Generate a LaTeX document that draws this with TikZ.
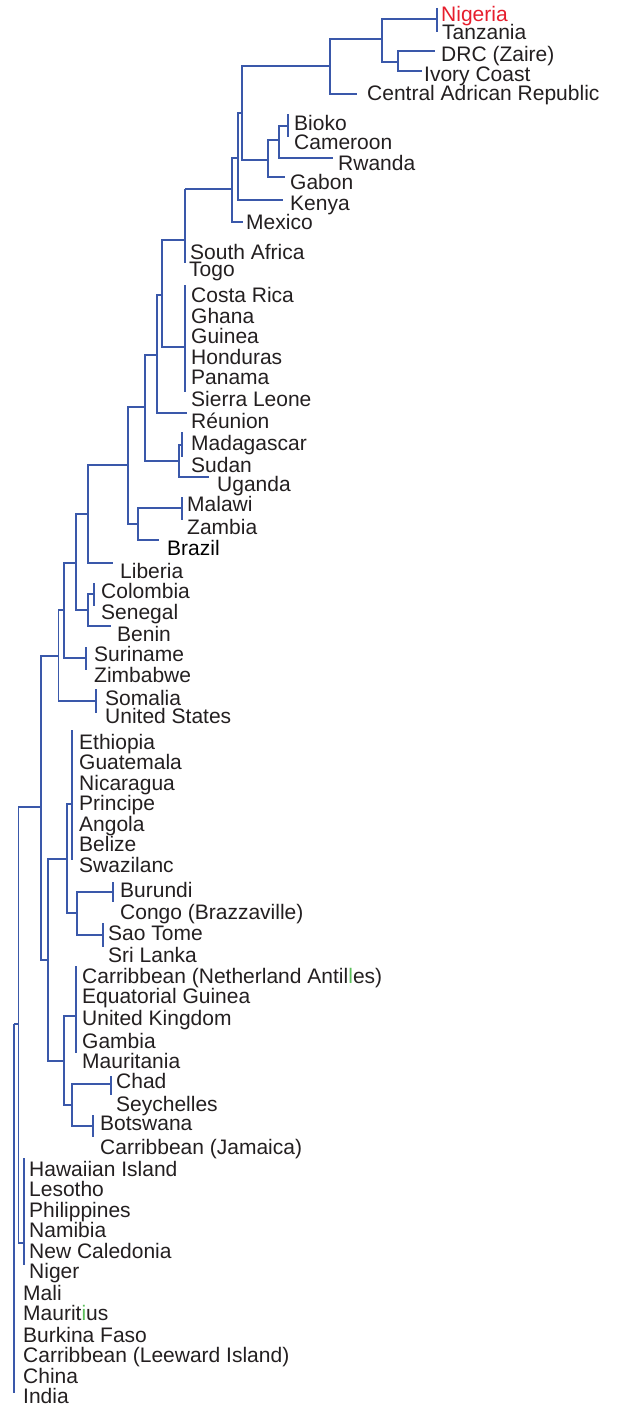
\documentclass[tikz,border=0pt]{standalone}
\usepackage{fontspec}
\setmainfont{Liberation Sans}
\definecolor{treeblue}{RGB}{58,88,170}
\definecolor{labgray}{RGB}{35,31,32}
\definecolor{nigred}{RGB}{230,30,45}
\definecolor{oddgreen}{RGB}{90,190,90}
\begin{document}
\begin{tikzpicture}[x=1pt,y=-1pt,
  edge/.style={draw=treeblue,line width=1.1pt},
  lab/.style={anchor=base west,inner sep=0pt,text=labgray,font=\fontsize{21}{21}\selectfont}]
\useasboundingbox (0,0) rectangle (620,1405);
% internal nodes
\coordinate (n1) at (14,1024);
\coordinate (rootend) at (14,1393);
\coordinate (n2) at (18.5,1024);
\coordinate (hw) at (24,1243);
\coordinate (hwtop) at (24,1158);
\coordinate (hwbot) at (24,1265);
\coordinate (n3) at (41,807);
\coordinate (n4) at (58.5,656);
\coordinate (n5) at (48,960);
\coordinate (n6) at (64,610);
\coordinate (som) at (96,701);
\coordinate (somtop) at (96,689);
\coordinate (sombot) at (96,713);
\coordinate (n7) at (76,563);
\coordinate (sur) at (86,658);
\coordinate (surtop) at (86,647);
\coordinate (surbot) at (86,670);
\coordinate (n8) at (88,514);
\coordinate (n9) at (88,610);
\coordinate (n10) at (128,465);
\coordinate (lib) at (113,563);
\coordinate (col) at (94,594);
\coordinate (coltop) at (94,583);
\coordinate (colbot) at (94,606);
\coordinate (ben) at (111,626);
\coordinate (n11) at (145,407);
\coordinate (n12) at (138,524);
\coordinate (mal) at (182,508);
\coordinate (maltop) at (182,497);
\coordinate (malbot) at (182,520);
\coordinate (bra) at (159,540);
\coordinate (n13) at (157,355);
\coordinate (n14) at (179,461);
\coordinate (mad) at (182,445);
\coordinate (madtop) at (182,432);
\coordinate (madbot) at (182,457);
\coordinate (uga) at (209,477);
\coordinate (n15) at (162,295);
\coordinate (reu) at (187,413);
\coordinate (sa) at (185,240);
\coordinate (satop) at (185,189);
\coordinate (sabot) at (185,263);
\coordinate (cr) at (185,347);
\coordinate (crtop) at (185,285);
\coordinate (crbot) at (185,392);
\coordinate (n16) at (232,189);
\coordinate (n17) at (238,158);
\coordinate (mex) at (243,222);
\coordinate (n18) at (242,113);
\coordinate (ken) at (283,200);
\coordinate (n19) at (330,66);
\coordinate (n20) at (268,160);
\coordinate (n21) at (382,39);
\coordinate (car) at (357,94);
\coordinate (nig) at (437,19);
\coordinate (nigtop) at (437,8);
\coordinate (nigbot) at (437,32);
\coordinate (n22) at (398,62);
\coordinate (drc) at (435,51);
\coordinate (ivo) at (422,71);
\coordinate (n23) at (279,140);
\coordinate (gab) at (285,177);
\coordinate (bio) at (288,126);
\coordinate (biotop) at (288,114);
\coordinate (biobot) at (288,137);
\coordinate (rwa) at (333,158);
\coordinate (n24) at (67,859);
\coordinate (n25) at (64,1061);
\coordinate (eth) at (72,804);
\coordinate (ethtop) at (72,730);
\coordinate (ethbot) at (72,860);
\coordinate (n26) at (77,913);
\coordinate (bur) at (113,892);
\coordinate (burtop) at (113,882);
\coordinate (burbot) at (113,902);
\coordinate (sao) at (103,935);
\coordinate (saotop) at (103,923);
\coordinate (saobot) at (103,947);
\coordinate (cna) at (76,1016);
\coordinate (cnatop) at (76,966);
\coordinate (cnabot) at (76,1053);
\coordinate (n27) at (72,1105);
\coordinate (chad) at (111,1084);
\coordinate (chadtop) at (111,1076);
\coordinate (chadbot) at (111,1095);
\coordinate (bot) at (93,1126);
\coordinate (bottop) at (93,1115);
\coordinate (botbot) at (93,1137);
% edges
\draw[edge] (n1) -- (rootend);
\draw[edge] (n1) -- (n2);
\draw[edge] (n2) |- (n3);
\draw[edge] (n2) |- (hw);
\draw[edge] (hwtop) -- (hwbot);
\draw[edge] (n3) |- (n4);
\draw[edge] (n3) |- (n5);
\draw[edge] (n4) |- (n6);
\draw[edge] (n4) |- (som);
\draw[edge] (somtop) -- (sombot);
\draw[edge] (n6) |- (n7);
\draw[edge] (n6) |- (sur);
\draw[edge] (surtop) -- (surbot);
\draw[edge] (n7) |- (n8);
\draw[edge] (n7) |- (n9);
\draw[edge] (n8) |- (n10);
\draw[edge] (n8) |- (lib);
\draw[edge] (n9) |- (col);
\draw[edge] (n9) |- (ben);
\draw[edge] (coltop) -- (colbot);
\draw[edge] (n10) |- (n11);
\draw[edge] (n10) |- (n12);
\draw[edge] (n12) |- (mal);
\draw[edge] (n12) |- (bra);
\draw[edge] (maltop) -- (malbot);
\draw[edge] (n11) |- (n13);
\draw[edge] (n11) |- (n14);
\draw[edge] (n14) |- (mad);
\draw[edge] (n14) |- (uga);
\draw[edge] (madtop) -- (madbot);
\draw[edge] (n13) |- (n15);
\draw[edge] (n13) |- (reu);
\draw[edge] (n15) |- (sa);
\draw[edge] (n15) |- (cr);
\draw[edge] (satop) -- (sabot);
\draw[edge] (crtop) -- (crbot);
\draw[edge] (satop) -- (n16);
\draw[edge] (n16) |- (n17);
\draw[edge] (n16) |- (mex);
\draw[edge] (n17) |- (n18);
\draw[edge] (n17) |- (ken);
\draw[edge] (n18) |- (n19);
\draw[edge] (n18) |- (n20);
\draw[edge] (n19) |- (n21);
\draw[edge] (n19) |- (car);
\draw[edge] (n21) |- (nig);
\draw[edge] (n21) |- (n22);
\draw[edge] (nigtop) -- (nigbot);
\draw[edge] (n22) |- (drc);
\draw[edge] (n22) |- (ivo);
\draw[edge] (n20) |- (n23);
\draw[edge] (n20) |- (gab);
\draw[edge] (n23) |- (bio);
\draw[edge] (n23) |- (rwa);
\draw[edge] (biotop) -- (biobot);
\draw[edge] (n5) |- (n24);
\draw[edge] (n5) |- (n25);
\draw[edge] (n24) |- (eth);
\draw[edge] (n24) |- (n26);
\draw[edge] (ethtop) -- (ethbot);
\draw[edge] (n26) |- (bur);
\draw[edge] (n26) |- (sao);
\draw[edge] (burtop) -- (burbot);
\draw[edge] (saotop) -- (saobot);
\draw[edge] (n25) |- (cna);
\draw[edge] (n25) |- (n27);
\draw[edge] (cnatop) -- (cnabot);
\draw[edge] (n27) |- (chad);
\draw[edge] (n27) |- (bot);
\draw[edge] (chadtop) -- (chadbot);
\draw[edge] (bottop) -- (botbot);
% labels
\node[lab,text=nigred] (lNigeria) at (441,21.5) {Nigeria};
\node[lab] (lTanzania) at (442,39.5) {Tanzania};
\node[lab] (lDRC) at (441,61.5) {DRC (Zaire)};
\node[lab] (lIvory) at (424,81.5) {Ivory Coast};
\node[lab] (lCAR) at (367,100.5) {Central Adrican Republic};
\node[lab] (lBioko) at (294,130.5) {Bioko};
\node[lab] (lCameroon) at (294,149.5) {Cameroon};
\node[lab] (lRwanda) at (338,170.5) {Rwanda};
\node[lab] (lGabon) at (290,189.5) {Gabon};
\node[lab] (lKenya) at (290,210.5) {Kenya};
\node[lab] (lMexico) at (246,229.5) {Mexico};
\node[lab] (lSA) at (190,259.5) {South Africa};
\node[lab] (lTogo) at (189,276.5) {Togo};
\node[lab] (lCosta) at (191,302.5) {Costa Rica};
\node[lab] (lGhana) at (191,323.5) {Ghana};
\node[lab] (lGuinea) at (191,343.5) {Guinea};
\node[lab] (lHonduras) at (191,364.5) {Honduras};
\node[lab] (lPanama) at (191,384.5) {Panama};
\node[lab] (lSierra) at (191,406.5) {Sierra Leone};
\node[lab] (lReunion) at (191,428.5) {Réunion};
\node[lab] (lMadagascar) at (191,450.5) {Madagascar};
\node[lab] (lSudan) at (191,472.5) {Sudan};
\node[lab] (lUganda) at (217,491.5) {Uganda};
\node[lab] (lMalawi) at (187,511.5) {Malawi};
\node[lab] (lZambia) at (187,534.5) {Zambia};
\node[lab,text=black] (lBrazil) at (167,555.5) {Brazil};
\node[lab] (lLiberia) at (120,578.5) {Liberia};
\node[lab] (lColombia) at (101,598.5) {Colombia};
\node[lab] (lSenegal) at (101,619.5) {Senegal};
\node[lab] (lBenin) at (117,641.5) {Benin};
\node[lab] (lSuriname) at (94,661.5) {Suriname};
\node[lab] (lZimbabwe) at (94,682.5) {Zimbabwe};
\node[lab] (lSomalia) at (105,705.5) {Somalia};
\node[lab] (lUS) at (105,723.5) {United States};
\node[lab] (lEthiopia) at (79,749.5) {Ethiopia};
\node[lab] (lGuatemala) at (79,769.5) {Guatemala};
\node[lab] (lNicaragua) at (79,790.5) {Nicaragua};
\node[lab] (lPrincipe) at (79,810.5) {Principe};
\node[lab] (lAngola) at (79,831.5) {Angola};
\node[lab] (lBelize) at (79,851.5) {Belize};
\node[lab] (lSwazi) at (79,872.5) {Swazilanc};
\node[lab] (lBurundi) at (120,897.5) {Burundi};
\node[lab] (lCongo) at (120,919.5) {Congo (Brazzaville)};
\node[lab] (lSao) at (108,940.5) {Sao Tome};
\node[lab] (lSri) at (108,962.5) {Sri Lanka};
\node[lab] (lCarNA) at (82,983.5) {Carribbean (Netherland Antil{\color{oddgreen}l}es)};
\node[lab] (lEqG) at (82,1003.5) {Equatorial Guinea};
\node[lab] (lUK) at (82,1025.5) {United Kingdom};
\node[lab] (lGambia) at (82,1048.5) {Gambia};
\node[lab] (lMauritania) at (82,1068.5) {Mauritania};
\node[lab] (lChad) at (116,1088.5) {Chad};
\node[lab] (lSeychelles) at (116,1111.5) {Seychelles};
\node[lab] (lBotswana) at (100,1130.5) {Botswana};
\node[lab] (lJamaica) at (100,1154.5) {Carribbean (Jamaica)};
\node[lab] (lHawaii) at (29,1176.5) {Hawaiian Island};
\node[lab] (lLesotho) at (29,1196.5) {Lesotho};
\node[lab] (lPhil) at (29,1217.5) {Philippines};
\node[lab] (lNamibia) at (29,1237.5) {Namibia};
\node[lab] (lNewCal) at (29,1258.5) {New Caledonia};
\node[lab] (lNiger) at (29,1278.5) {Niger};
\node[lab] (lMali) at (23,1300.5) {Mali};
\node[lab] (lMauritius) at (23,1320.5) {Maurit{\color{oddgreen}i}us};
\node[lab] (lBurkina) at (23,1342.5) {Burkina Faso};
\node[lab] (lLeeward) at (23,1362.5) {Carribbean (Leeward Island)};
\node[lab] (lChina) at (23,1383.5) {China};
\node[lab] (lIndia) at (23,1403.5) {India};
\end{tikzpicture}
\end{document}
